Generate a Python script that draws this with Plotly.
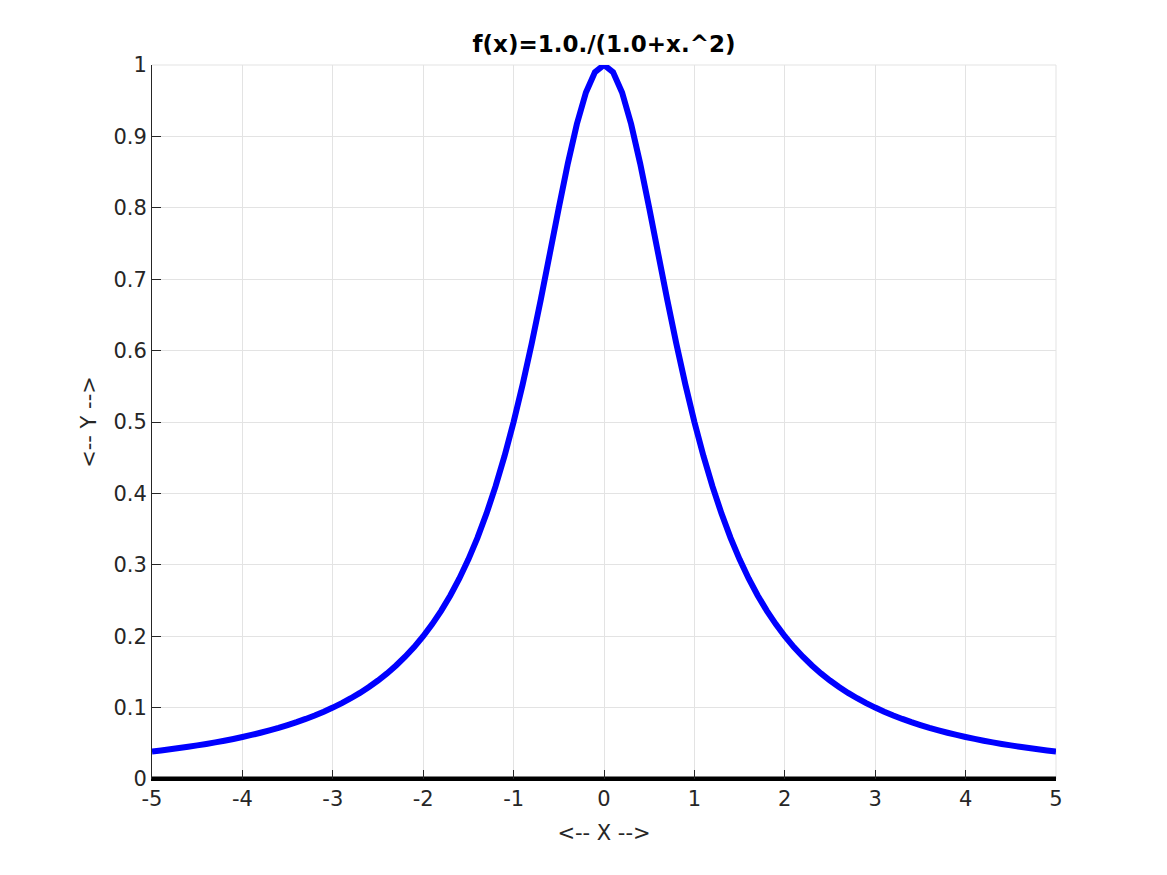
import plotly.graph_objects as go

# x grid (step 0.1 from -5 to 5)
x_vals = [round(-5 + i * 0.1, 1) for i in range(101)]

# y values read for x = 0.0, 0.1, ..., 5.0 (curve is symmetric about x = 0)
y_right = [1.0000, 0.9901, 0.9615, 0.9174, 0.8621, 0.8000, 0.7353, 0.6711, 0.6098, 0.5525,
           0.5000, 0.4525, 0.4098, 0.3717, 0.3378, 0.3077, 0.2809, 0.2571, 0.2358, 0.2169,
           0.2000, 0.1848, 0.1712, 0.1590, 0.1479, 0.1379, 0.1289, 0.1206, 0.1131, 0.1063,
           0.1000, 0.0943, 0.0890, 0.0841, 0.0796, 0.0755, 0.0716, 0.0681, 0.0648, 0.0617,
           0.0588, 0.0561, 0.0536, 0.0513, 0.0491, 0.0471, 0.0451, 0.0433, 0.0416, 0.0400,
           0.0385]
y_vals = y_right[::-1][:-1] + y_right

zero_x = [-5, 5]
zero_y = [0, 0]

x_ticks = [-5, -4, -3, -2, -1, 0, 1, 2, 3, 4, 5]
y_ticks = [0, 0.1, 0.2, 0.3, 0.4, 0.5, 0.6, 0.7, 0.8, 0.9, 1]
y_tick_text = ["0", "0.1", "0.2", "0.3", "0.4", "0.5", "0.6", "0.7", "0.8", "0.9", "1"]

FONT = "DejaVu Sans"
AX = "#262626"
GRID = "#e3e3e3"

# page body has an 8px margin, so the figure is drawn from (8, 8)
W, H = 1159, 867
ML, MR, MT, MB = 144, 111, 57, 96

fig = go.Figure()
fig.add_trace(go.Scatter(x=x_vals, y=y_vals, mode="lines",
                         line=dict(color="#0000ff", width=6, simplify=False),
                         showlegend=False))
fig.add_trace(go.Scatter(x=zero_x, y=zero_y, mode="lines",
                         line=dict(color="#000000", width=5), showlegend=False))

fig.update_layout(
    width=W, height=H,
    paper_bgcolor="white", plot_bgcolor="white",
    margin=dict(l=ML, r=MR, t=MT, b=MB),
    font=dict(family=FONT, color=AX, size=21),
    title=dict(text="<b>f(x)=1.0./(1.0+x.^2)</b>",
               x=(ML + (W - MR)) / 2 / W, xanchor="center",
               y=1 - 36 / H, yanchor="middle", yref="container",
               font=dict(family=FONT, size=23, color="#000000")),
)
fig.update_xaxes(
    range=[-5, 5], tickvals=x_ticks, ticktext=[str(t) for t in x_ticks],
    showgrid=True, gridcolor=GRID, gridwidth=1,
    showline=True, linecolor="#000000", linewidth=2, mirror=False,
    ticks="inside", ticklen=9, tickcolor=AX, tickwidth=1,
    zeroline=False,
    title=dict(text="<-- X -->", standoff=15, font=dict(size=21, color=AX)),
)
fig.update_yaxes(
    range=[0, 1], tickvals=y_ticks, ticktext=y_tick_text,
    showgrid=True, gridcolor=GRID, gridwidth=1,
    showline=True, linecolor=AX, linewidth=1, mirror=False,
    ticks="inside", ticklen=9, tickcolor=AX, tickwidth=1,
    zeroline=False,
    title=dict(text="<-- Y -->", standoff=11, font=dict(size=21, color=AX)),
)
# top and right grid borders (light gray, not dark spines)
fig.add_shape(type="line", xref="paper", yref="paper", x0=0, x1=1, y0=1, y1=1,
              line=dict(color=GRID, width=1), layer="below")
fig.add_shape(type="line", xref="paper", yref="paper", x0=1, x1=1, y0=0, y1=1,
              line=dict(color=GRID, width=1), layer="below")

fig.write_html("out.html")
